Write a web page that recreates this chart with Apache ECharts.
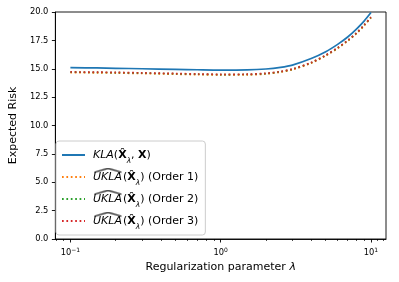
<!DOCTYPE html>
<html>
<head>
<meta charset="utf-8">
<script src="https://cdn.jsdelivr.net/npm/echarts@6/dist/echarts.min.js"></script>
<style>
html,body{margin:0;padding:0;background:#fff;}
#chart{width:399px;height:282px;}
</style>
</head>
<body>
<div id="chart"></div>
<script>
// ---- data ----
const lambdas = [0.1, 0.15, 0.2, 0.3, 0.5, 0.7, 1.0, 1.5, 2.0, 2.5, 3.0, 4.0, 5.0, 6.0, 7.0, 8.0, 9.0, 10.0];
const klaRisk    = [15.10, 15.07, 15.04, 15.00, 14.95, 14.91, 14.88, 14.90, 14.98, 15.12, 15.32, 15.90, 16.50, 17.15, 17.80, 18.50, 19.20, 19.95];
const uklaOrder1 = [14.66, 14.64, 14.62, 14.58, 14.52, 14.48, 14.45, 14.46, 14.54, 14.70, 14.92, 15.49, 16.14, 16.79, 17.44, 18.09, 18.79, 19.49];
const uklaOrder2 = [14.70, 14.68, 14.66, 14.62, 14.56, 14.52, 14.49, 14.50, 14.58, 14.74, 14.96, 15.53, 16.18, 16.83, 17.48, 18.13, 18.83, 19.53];
const uklaOrder3 = [14.72, 14.70, 14.68, 14.64, 14.58, 14.54, 14.51, 14.52, 14.60, 14.76, 14.98, 15.55, 16.20, 16.85, 17.50, 18.15, 18.85, 19.55];
const seriesNames = ['KLA', 'UKLA1', 'UKLA2', 'UKLA3'];
const orderLabels = ['Order 1', 'Order 2', 'Order 3'];
const xMajorTicks = [0.1, 1, 10];
const xMinorTicks = [0.08, 0.09, 0.2, 0.3, 0.4, 0.5, 0.6, 0.7, 0.8, 0.9, 2, 3, 4, 5, 6, 7, 8, 9, 11, 12];
const yTicks = [0, 2.5, 5, 7.5, 10, 12.5, 15, 17.5, 20];

const FONT = 'DejaVu Sans';
const pair = (ys) => lambdas.map((x, i) => [x, ys[i]]);

// wide hat image for legend
const hatCanvas = document.createElement('canvas');
hatCanvas.width = 30; hatCanvas.height = 19;
(function(){
  const c = hatCanvas.getContext('2d');
  c.strokeStyle = '#000'; c.lineWidth = 1.1; c.lineJoin = 'miter';
  c.beginPath(); c.moveTo(1.5, 4.8); c.lineTo(15, 0.9); c.lineTo(28.5, 4.8); c.stroke();
})();

const legendText = {
  KLA: '{it|KLA}{n|(}{b|X\u0302}{sub|\u03bb}{n|, }{b|X}{n|)}',
  UKLA1: '{hat|UKLA}{n|(}{b|X\u0302}{sub|\u03bb}{n|) (' + orderLabels[0] + ')}',
  UKLA2: '{hat|UKLA}{n|(}{b|X\u0302}{sub|\u03bb}{n|) (' + orderLabels[1] + ')}',
  UKLA3: '{hat|UKLA}{n|(}{b|X\u0302}{sub|\u03bb}{n|) (' + orderLabels[2] + ')}'
};

const chart = echarts.init(document.getElementById('chart'), null, {renderer: 'canvas'});
const dotted = [1.7, 2.7];
chart.setOption({
  animation: false,
  backgroundColor: '#fff',
  textStyle: {fontFamily: FONT},
  grid: {left: 52, right: 13, top: 12, bottom: 43, show: true, borderColor: '#000', borderWidth: 0.9, backgroundColor: 'transparent'},
  xAxis: [{
    type: 'log', logBase: 10,
    min: Math.pow(10, -1.1), max: Math.pow(10, 1.1),
    position: 'bottom',
    axisLine: {show: true, lineStyle: {color: '#000', width: 0.9}},
    axisTick: {show: true, length: 3.5, lineStyle: {color: '#000', width: 0.9}, customValues: xMajorTicks},
    axisLabel: {
      customValues: xMajorTicks, margin: 8, color: '#000', fontFamily: FONT, fontSize: 8.3,
      formatter: function (v) {
        const e = Math.round(Math.log10(v));
        return '{b|10}{sup|' + (e < 0 ? '\u2212' : '') + Math.abs(e) + '}';
      },
      rich: {
        b: {fontSize: 8.3, fontFamily: FONT, color: '#000', lineHeight: 12},
        sup: {fontSize: 6, fontFamily: FONT, color: '#000', verticalAlign: 'top', lineHeight: 7}
      }
    },
    splitLine: {show: false},
    name: 'Regularization parameter {it|\u03bb}',
    nameLocation: 'middle', nameGap: 20,
    nameTextStyle: {fontSize: 11, fontFamily: FONT, color: '#000',
      rich: {it: {fontStyle: 'italic', fontSize: 11, fontFamily: FONT, color: '#000'}}}
  }, {
    type: 'log', logBase: 10,
    min: Math.pow(10, -1.1), max: Math.pow(10, 1.1),
    position: 'bottom',
    axisLine: {show: false},
    axisTick: {show: true, length: 2, lineStyle: {color: '#000', width: 0.7}, customValues: xMinorTicks},
    axisLabel: {show: false},
    splitLine: {show: false}
  }],
  yAxis: {
    type: 'value', min: 0, max: 20, interval: 2.5,
    axisLine: {show: true, lineStyle: {color: '#000', width: 0.9}},
    axisTick: {show: true, length: 3.5, lineStyle: {color: '#000', width: 0.9}},
    axisLabel: {margin: 7, color: '#000', fontFamily: FONT, fontSize: 8.3,
      formatter: (v) => v.toFixed(1)},
    splitLine: {show: false},
    name: 'Expected Risk', nameLocation: 'middle', nameGap: 35,
    nameTextStyle: {fontSize: 11, fontFamily: FONT, color: '#000'}
  },
  legend: {
    data: seriesNames,
    orient: 'vertical',
    left: 56, top: 141,
    padding: [4, 7, 4, 5],
    itemGap: 2,
    itemWidth: 23, itemHeight: 10,
    itemStyle: {color: 'rgba(0,0,0,0)', borderWidth: 0, opacity: 0},
    borderColor: '#cccccc', borderWidth: 1, borderRadius: 3,
    backgroundColor: 'rgba(255,255,255,0.8)',
    formatter: (name) => legendText[name],
    textStyle: {
      fontFamily: FONT, fontSize: 11, color: '#000', lineHeight: 20, padding: [0, 0, 0, 3],
      rich: {
        n: {fontSize: 11, fontFamily: FONT, color: '#000', lineHeight: 20},
        it: {fontSize: 11, fontFamily: FONT, color: '#000', fontStyle: 'italic', lineHeight: 20},
        b: {fontSize: 11, fontFamily: FONT, color: '#000', fontWeight: 'bold', lineHeight: 20},
        sub: {fontSize: 7.5, fontFamily: FONT, color: '#000', fontStyle: 'italic', verticalAlign: 'bottom', lineHeight: 12},
        hat: {fontSize: 11, fontFamily: FONT, color: '#000', fontStyle: 'italic', lineHeight: 20,
              padding: [4, 0, 4, 0], backgroundColor: {image: hatCanvas}}
      }
    }
  },
  series: [
    {name: seriesNames[0], type: 'line', xAxisIndex: 0, data: pair(klaRisk), smooth: 0.3,
     symbol: 'none', showSymbol: false, color: '#1f77b4',
     lineStyle: {color: '#1f77b4', width: 1.7}},
    {name: seriesNames[1], type: 'line', xAxisIndex: 0, data: pair(uklaOrder1), smooth: 0.3,
     symbol: 'none', showSymbol: false, color: '#ff7f0e',
     lineStyle: {color: '#ff7f0e', width: 1.7, type: dotted, cap: 'butt'}},
    {name: seriesNames[2], type: 'line', xAxisIndex: 0, data: pair(uklaOrder2), smooth: 0.3,
     symbol: 'none', showSymbol: false, color: '#2ca02c',
     lineStyle: {color: '#2ca02c', width: 1.7, type: dotted, cap: 'butt'}},
    {name: seriesNames[3], type: 'line', xAxisIndex: 0, data: pair(uklaOrder3), smooth: 0.3,
     symbol: 'none', showSymbol: false, color: '#d62728',
     lineStyle: {color: '#d62728', width: 1.7, type: dotted, cap: 'butt'}}
  ]
});
</script>
</body>
</html>
